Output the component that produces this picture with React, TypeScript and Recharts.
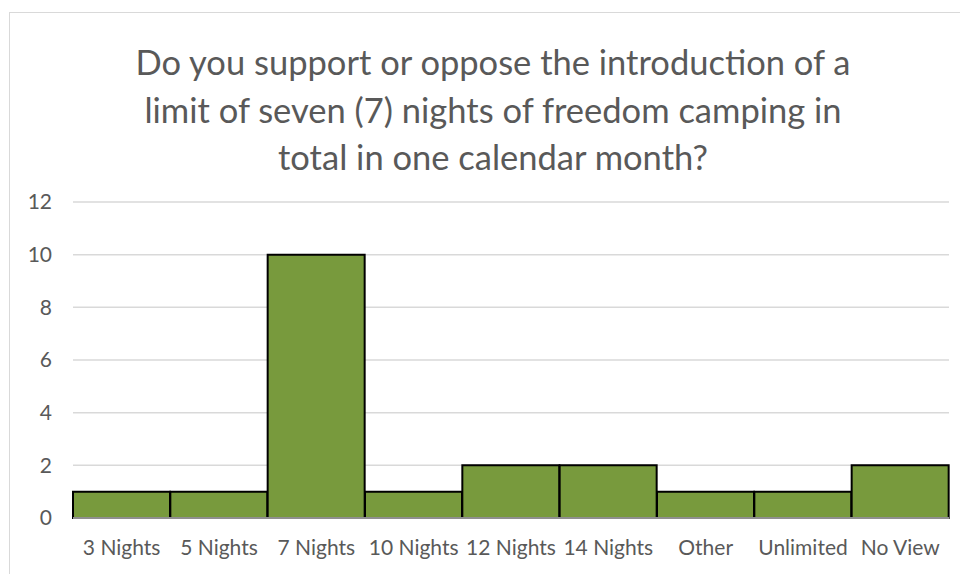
import { BarChart, Bar, XAxis, YAxis, CartesianGrid } from "recharts";

const categories = [
  "3 Nights",
  "5 Nights",
  "7 Nights",
  "10 Nights",
  "12 Nights",
  "14 Nights",
  "Other",
  "Unlimited",
  "No View",
];
const responses = [1, 1, 10, 1, 2, 2, 1, 1, 2];
const yTicks = [0, 2, 4, 6, 8, 10, 12];
const titleLines = [
  "Do you support or oppose the introduction of a",
  "limit of seven (7) nights of freedom camping in",
  "total in one calendar month?",
];

const FONT = "Lato, 'Open Sans', sans-serif";
const TEXT = "#595959";

const data = categories.map((name, i) => ({ name, value: responses[i] }));

export default function App() {
  return (
    <div
      style={{
        position: "relative",
        width: 960,
        height: 566,
        overflow: "hidden",
        fontFamily: FONT,
        background: "#fff",
      }}
    >
      {/* chart frame */}
      <div
        style={{
          position: "absolute",
          left: 1,
          top: 4,
          width: 1000,
          height: 700,
          border: "1px solid #d9d9d9",
        }}
      />
      <div
        style={{
          position: "absolute",
          left: 0,
          top: 30,
          width: 970,
          textAlign: "center",
          fontSize: 34.5,
          lineHeight: "47.5px",
          color: TEXT,
        }}
      >
        {titleLines.map((t) => (
          <div key={t}>{t}</div>
        ))}
      </div>
      <BarChart
        width={960}
        height={566}
        data={data}
        margin={{ top: 194, right: 19, bottom: 14, left: 0 }}
        barCategoryGap={0}
        style={{ position: "absolute", left: 0, top: 0 }}
      >
        <CartesianGrid vertical={false} stroke="#d9d9d9" strokeWidth={1.5} />
        <XAxis
          dataKey="name"
          axisLine={{ stroke: "#bfbfbf", strokeWidth: 1.5 }}
          tickLine={false}
          tickSize={0}
          tickMargin={22}
          interval={0}
          height={42}
          tick={{ fontSize: 21, fill: TEXT, fontFamily: FONT }}
        />
        <YAxis
          domain={[0, 12]}
          ticks={yTicks}
          axisLine={false}
          tickLine={false}
          tickSize={0}
          tickMargin={21}
          width={65}
          tick={{ fontSize: 21, fill: TEXT, fontFamily: FONT }}
        />
        <Bar
          dataKey="value"
          fill="#789a3d"
          stroke="#000"
          strokeWidth={2}
          isAnimationActive={false}
        />
      </BarChart>
    </div>
  );
}
